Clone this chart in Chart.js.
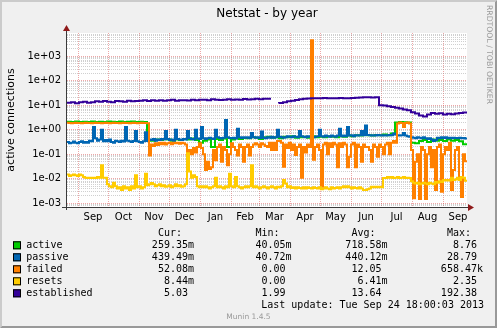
<!DOCTYPE html>
<html>
<head>
<meta charset="utf-8">
<title>Netstat - by year</title>
<script src="https://cdn.jsdelivr.net/npm/chart.js@4.4.0/dist/chart.umd.min.js"></script>
<style>
  html, body { margin: 0; padding: 0; background: #f0f0f0; }
  canvas { display: block; }
</style>
</head>
<body>
<canvas id="netstat" width="497" height="328"></canvas>
<script>
// ---- data -----------------------------------------------------------------
const seriesNames  = ['active', 'passive', 'failed', 'resets', 'established'];
const seriesColors = ['#00cc00', '#0066b3', '#ff8000', '#ffcc00', '#330099'];

// time axis: 400 days, day 0 = 2012-08-21
const rangeStart = '2012-08-21';
const rangeDays = 400;
const monthLabels = ['Sep', 'Oct', 'Nov', 'Dec', 'Jan', 'Feb', 'Mar', 'Apr', 'May', 'Jun', 'Jul', 'Aug', 'Sep'];
const monthStarts = ['2012-09-01', '2012-10-01', '2012-11-01', '2012-12-01', '2013-01-01', '2013-02-01',
                     '2013-03-01', '2013-04-01', '2013-05-01', '2013-06-01', '2013-07-01', '2013-08-01',
                     '2013-09-01', '2013-10-01'];

// value axis (connections, log scale)
const yMin = 0.00071;
const yMax = 8900;

// slow series: one value every 4 days
const stepDays = 4;
const activeValues = [
  2.1, 2.15, 2.1, 2.2, 2.1, 2.15, 2.1, 2.2, 2.1, 2.15, 2.1, 2.2, 2.15, 2.1, 2.2, 2.1, 2.15, 2.2, 2.1, 2.15, 2.1,
  0.38, 0.36, 0.4, 0.38, 0.42, 0.4, 0.36, 0.4, 0.38, 0.42, 0.4, 0.44, 0.38, 0.3, 0.36, 0.4, 0.2, 0.42, 0.38, 0.44,
  0.2, 0.4, 0.45, 0.42, 0.46,
  0.45, 0.5, 0.48, 0.42, 0.5, 0.52, 0.48, 0.5, 0.45, 0.52, 0.5, 0.55, 0.48, 0.5, 0.52, 0.48, 0.55, 0.5, 0.52, 0.5,
  0.55, 0.52, 0.5, 0.55, 0.52, 0.58, 0.55, 0.6, 0.58, 0.62, 0.6, 0.58, 0.62,
  0.6, 0.65, 0.6, 0.7,
  2.0, 2.1, 2.05, 2.0,
  0.3, 0.28, 0.35, 0.38, 0.32, 0.4, 0.36, 0.38, 0.35, 0.4, 0.36, 0.38, 0.34, 0.25935
];
const establishedValues = [
  13.4, 12.8, 13.4, 12.2, 13.4, 14, 12.8, 13.4, 14.7,
  14, 15, 14, 13.4, 15, 14.7, 14, 15.4, 14.7, 15,
  15.4, 16, 15, 16, 15.4, 16.2, 15.4, 16, 16.8, 15.4, 16, 16.2, 15.6, 17, 16,
  16.8, 17, 16.2, 17.6, 17, 16.4, 17, 17.6, 16.8, 17.4, 17, 18, 17.2, 17.6, 18.4, 17.6,
  18.6, 18.6, null,
  11.8, 12.5, 13.4, 14.5, 15.5, 16.5, 17.6, 18.6, 19,
  19.2, 19.5, 19.2, 19.8, 19.5, 19.2, 19.5, 19.8, 19.5,
  19.5, 20, 20.5, 21, 21.3, 21.5, 21, 21.3,
  10.1, 9.8, 9.2, 8.6, 8, 7.4, 6.8, 6.3, 5.2, 4.6, 3.8, 3.5, 4.2, 4.8, 4.5, 4.7, 4.2, 4.5, 4.3, 4.6, 4.8, 5.03
];

// spiky series: one value every 2 days
const fineStepDays = 2;
const passiveValues = [
  0.3, 0.32, 0.28, 0.3, 0.33, 0.3, 0.28, 0.32, 0.34, 0.3,
  0.32, 0.3, 0.36, 0.34, 1.3, 0.45, 0.36, 0.4, 1.0, 0.34,
  0.38, 0.34, 0.4, 0.32, 0.3, 0.36, 0.34, 0.32, 0.36, 0.33,
  1.3, 0.36, 0.34, 0.32, 0.35, 0.9, 0.34, 0.32, 0.3, 0.34,
  0.8, 0.35, 0.4, 0.38, 0.42, 0.36, 0.4, 0.38, 0.42, 0.4,
  0.9, 0.42, 0.38, 0.4, 0.36, 1.0, 0.42, 0.4, 0.38, 0.42,
  0.4, 0.9, 0.45, 0.42, 0.4, 1.0, 0.44, 0.42, 1.3, 0.45,
  0.42, 0.45, 0.48, 0.44, 0.42, 1.0, 0.5, 0.46, 0.44, 0.48,
  2.5, 0.5, 0.46, 0.45, 0.48, 0.44, 1.1, 0.5, 0.46, 0.5,
  0.48, 0.5, 0.46, 0.75, 0.5, 0.48, 0.5, 0.46, 0.85, 0.48,
  0.45, 0.5, 0.48, 0.52, 0.48, 0.5, 1.0, 0.52, 0.5, 0.48,
  0.5, 0.55, 0.52, 0.5, 0.55, 0.52, 0.5, 0.9, 0.55, 0.52,
  0.5, 0.55, 0.52, 0.55, 0.5, 0.52, 0.55, 1.0, 0.55, 0.52,
  0.58, 0.55, 0.52, 0.58, 0.55, 0.52, 0.58, 1.1, 0.55, 0.58,
  0.55, 1.3, 0.58, 0.6, 0.55, 0.6, 0.58, 0.6, 0.9, 0.6,
  1.5, 0.62, 0.6, 0.58, 0.6, 0.58, 0.62, 0.6, 0.58, 0.6,
  0.58, 0.6, 0.62, 0.6, 0.7, 0.65, 0.6, 0.58, 0.6, 0.75,
  0.58, 0.55, 0.52, 0.5, 0.48, 0.45, 0.5, 0.48, 0.45, 0.5,
  0.45, 0.42, 0.45, 0.4, 0.35, 0.38, 0.48, 0.45, 0.5, 0.46,
  0.5, 0.45, 0.48, 0.45, 0.48, 0.46, 0.45, 0.48, 0.45, 0.46,
  0.43949
];
const failedValues = [
  1.9, 1.95, 1.9, 1.85, 1.9, 1.95, 1.9, 1.9, 1.85, 1.9,
  1.95, 1.9, 1.9, 1.85, 1.9, 1.95, 1.9, 1.9, 1.85, 1.9,
  1.95, 1.9, 1.85, 1.9, 1.95, 1.9, 1.9, 1.85, 1.9, 1.95,
  1.9, 1.9, 1.85, 1.9, 1.95, 1.9, 1.85, 1.9, 1.95, 1.9,
  1.9, 1.85,
  0.09, 0.25, 0.22, 0.28, 0.24, 0.3, 0.26, 0.3,
  0.25, 0.28, 0.3, 0.26, 0.3, 0.28, 0.3, 0.27, 0.3, 0.28,
  0.25, 0.08, 0.15, 0.1, 0.18, 0.12, 0.2, 0.28, 0.18, 0.1,
  0.023, 0.05, 0.025, 0.03, 0.15, 0.058, 0.2, 0.25, 0.05, 0.2,
  0.15, 0.036, 0.1, 0.28, 0.2, 0.15, 0.09, 0.25, 0.2, 0.05,
  0.2, 0.25, 0.09, 0.2, 0.25, 0.28, 0.25, 0.2, 0.28, 0.25,
  0.22,
  0.2, 0.3, 0.15, 0.3, 0.15, 0.35, 0.35, 0.3, 0.031, 0.25,
  0.18, 0.3, 0.15, 0.25, 0.093, 0.2, 0.25, 0.011, 0.2, 0.12,
  0.25, 0.2, 4500, 0.06, 0.2, 0.25, 0.15, 0.0048, 0.25, 0.3,
  0.1, 0.28, 0.2, 0.3, 0.25, 0.03, 0.28, 0.2, 0.3, 0.25,
  0.03, 0.08, 0.25, 0.3, 0.03, 0.25, 0.2, 0.05, 0.25, 0.2,
  0.2, 0.15, 0.05, 0.25, 0.2, 0.08, 0.25, 0.2, 0.1, 0.25,
  0.3, 0.1, 0.3, 0.35, 0.3, 1.8, 2.0, 1.9, 1.3, 1.9,
  2.0, 1.8, 0.15, 0.0016, 0.05, 0.1, 0.0015, 0.2, 0.15, 0.0015,
  0.1, 0.2, 0.03, 0.15, 0.0035, 0.2, 0.25, 0.003, 0.1, 0.2,
  0.15, 0.3, 0.0035, 0.023, 0.15, 0.2, 0.0089, 0.0018, 0.1, 0.05208
];
const resetsValues = [
  0.014, 0.015, 0.013, 0.014, 0.015, 0.014, 0.013, 0.015, 0.014, 0.012,
  0.011, 0.0107, 0.011, 0.0107, 0.011, 0.0107, 0.012, 0.011, 0.036, 0.011,
  0.011, 0.006, 0.005, 0.0045, 0.007, 0.005, 0.004, 0.0045, 0.0035, 0.005,
  0.004, 0.0045, 0.0035, 0.005, 0.004, 0.014, 0.0045, 0.005, 0.004, 0.0045,
  0.016, 0.0055, 0.006, 0.0067, 0.006, 0.005, 0.0055, 0.006, 0.005, 0.0055,
  0.0048, 0.005, 0.0055, 0.0045, 0.005, 0.006, 0.005, 0.0055, 0.0048, 0.005,
  0.006, 0.11, 0.02, 0.011, 0.014, 0.012, 0.005, 0.0045, 0.005, 0.0045,
  0.005, 0.0045, 0.004, 0.0045, 0.005, 0.011, 0.0045, 0.005, 0.0045, 0.004,
  0.005, 0.0045, 0.016, 0.005, 0.0045, 0.012, 0.005, 0.0045, 0.004, 0.0045,
  0.005, 0.0045, 0.005, 0.036, 0.0045, 0.005, 0.0045, 0.004, 0.0045, 0.005,
  0.0045, 0.004, 0.0045, 0.005, 0.0045, 0.004, 0.0048, 0.0045, 0.005, 0.009,
  0.0065, 0.0045, 0.005, 0.0042, 0.0045, 0.004, 0.0045, 0.0042, 0.004, 0.0045,
  0.004, 0.0045, 0.0042, 0.004, 0.0045, 0.0042, 0.004, 0.0045, 0.0038, 0.004,
  0.0045, 0.004, 0.0038, 0.0045, 0.004, 0.0042, 0.0045, 0.004, 0.0045, 0.005,
  0.0045, 0.005, 0.0045, 0.004, 0.0045, 0.0042, 0.004, 0.0045, 0.004, 0.0035,
  0.0035, 0.0038, 0.004, 0.0048, 0.0045, 0.0048, 0.0045, 0.0048, 0.0045, 0.0107,
  0.0107, 0.012, 0.011, 0.012, 0.0107, 0.011, 0.012, 0.0107, 0.011, 0.012,
  0.0107, 0.011, 0.0107, 0.008, 0.007, 0.0065, 0.007, 0.006, 0.0065, 0.007,
  0.0065, 0.006, 0.007, 0.0065, 0.006, 0.0075, 0.007, 0.008, 0.0075, 0.009,
  0.0085, 0.009, 0.0085, 0.011, 0.009, 0.0095, 0.011, 0.009, 0.012, 0.011,
  0.00844
];

// legend statistics
const statHeaders = ['Cur:', 'Min:', 'Avg:', 'Max:'];
const statCur = ['259.35m', '439.49m', '52.08m', '8.44m', '5.03'];
const statMin = ['40.05m', '40.72m', '0.00', '0.00', '1.99'];
const statAvg = ['718.58m', '440.12m', '12.05', '6.41m', '13.64'];
const statMax = ['8.76', '28.79', '658.47k', '2.35', '192.38'];
const lastUpdate = 'Last update: Tue Sep 24 18:00:03 2013';
const chartTitle = 'Netstat - by year';
const axisTitle = 'active connections';
const sideNote = 'RRDTOOL / TOBI OETIKER';
const footNote = 'Munin 1.4.5';

// ---- helpers --------------------------------------------------------------
const DAY_MS = 86400000;
const startMs = Date.parse(rangeStart + 'T00:00:00Z');
const dayOf = s => (Date.parse(s + 'T00:00:00Z') - startMs) / DAY_MS;
const monthStartDays = monthStarts.map(dayOf);
const gridDays = monthStartDays.filter(d => d > 0 && d < rangeDays);
const monthLabelTicks = monthLabels.map((lab, i) => ({
  value: (monthStartDays[i] + monthStartDays[i + 1]) / 2, text: lab
})).filter(t => t.value > 0 && t.value < rangeDays);

const toPoints = (values, step) => values.map((v, i) => ({ x: i * step, y: v }));

function expLabel(e) {
  return '1e' + (e < 0 ? '-' : '+') + String(Math.abs(e)).padStart(2, '0');
}
function logTicks() {
  const out = [];
  for (let e = -4; e <= 4; e++) {
    for (let k = 1; k <= 9; k++) {
      const v = Number(k + 'e' + e);
      if (v >= yMin && v <= yMax) out.push({ value: v, decade: k === 1, text: k === 1 ? expLabel(e) : '' });
    }
  }
  return out;
}

const MAJOR_GRID = 'rgba(222, 79, 79, 0.5)';
const MINOR_GRID = 'rgba(143, 143, 143, 0.42)';
const AXIS_COLOR = '#3a3a3a';
const ARROW_COLOR = '#8f1a1a';
const MONO = '"DejaVu Sans Mono", monospace';
const SANS = '"DejaVu Sans", sans-serif';

// ---- frame, axes, title and legend ------------------------------------
const rrdFrame = {
  id: 'rrdFrame',
  beforeDraw(chart) {
    const { ctx, width, height, chartArea: a } = chart;
    ctx.save();
    ctx.fillStyle = '#f0f0f0';
    ctx.fillRect(0, 0, width, height);
    // bevelled border
    ctx.fillStyle = '#cbcbcb';
    ctx.beginPath();
    ctx.moveTo(0, height); ctx.lineTo(2, height - 2); ctx.lineTo(2, 2);
    ctx.lineTo(width - 2, 2); ctx.lineTo(width, 0); ctx.lineTo(0, 0); ctx.closePath();
    ctx.fill();
    ctx.fillStyle = '#999999';
    ctx.beginPath();
    ctx.moveTo(2, height - 2); ctx.lineTo(width - 2, height - 2); ctx.lineTo(width - 2, 2);
    ctx.lineTo(width, 0); ctx.lineTo(width, height); ctx.lineTo(0, height); ctx.closePath();
    ctx.fill();
    // plotting canvas
    ctx.fillStyle = '#ffffff';
    ctx.fillRect(a.left, a.top, a.right - a.left, a.bottom - a.top);
    ctx.restore();
  },
  afterDraw(chart) {
    const { ctx, chartArea: a, width } = chart;
    ctx.save();
    // axes
    ctx.strokeStyle = AXIS_COLOR;
    ctx.lineWidth = 1;
    ctx.beginPath();
    ctx.moveTo(a.left - 0.5, a.bottom + 3); ctx.lineTo(a.left - 0.5, a.top - 3);
    ctx.moveTo(a.left - 5, a.bottom + 0.5); ctx.lineTo(a.right + 2, a.bottom + 0.5);
    ctx.stroke();
    // arrows
    ctx.fillStyle = ARROW_COLOR;
    ctx.beginPath();
    ctx.moveTo(a.left - 0.5, a.top - 8); ctx.lineTo(a.left + 3, a.top - 2); ctx.lineTo(a.left - 4, a.top - 2);
    ctx.closePath(); ctx.fill();
    ctx.beginPath();
    ctx.moveTo(a.right + 7, a.bottom + 0.5); ctx.lineTo(a.right + 1, a.bottom - 3); ctx.lineTo(a.right + 1, a.bottom + 4);
    ctx.closePath(); ctx.fill();

    // title
    ctx.fillStyle = '#000';
    ctx.font = '12px ' + SANS;
    ctx.textAlign = 'center';
    ctx.textBaseline = 'alphabetic';
    ctx.fillText(chartTitle, (a.left + a.right) / 2, 17);

    // side note
    ctx.save();
    ctx.fillStyle = '#9a9a9a';
    ctx.font = '7.7px ' + SANS;
    ctx.translate(488.5, 5);
    ctx.rotate(Math.PI / 2);
    ctx.textAlign = 'left';
    ctx.textBaseline = 'middle';
    ctx.fillText(sideNote, 0, 0);
    ctx.restore();

    // legend
    const colRight = [194, 291.5, 387.5, 483];
    const stats = [statCur, statMin, statAvg, statMax];
    ctx.font = '10px ' + MONO;
    ctx.fillStyle = '#000';
    ctx.textAlign = 'right';
    statHeaders.forEach((h, c) => ctx.fillText(h, colRight[c] - 12, 236.3));
    seriesNames.forEach((name, r) => {
      const base = 248.3 + r * 12;
      ctx.fillStyle = seriesColors[r];
      ctx.fillRect(13, base - 7, 8, 8);
      ctx.strokeStyle = '#000';
      ctx.lineWidth = 1;
      ctx.strokeRect(13.5, base - 6.5, 7, 7);
      ctx.fillStyle = '#000';
      ctx.textAlign = 'left';
      ctx.fillText(name, 26.3, base);
      ctx.textAlign = 'right';
      stats.forEach((col, c) => {
        const v = col[r];
        ctx.fillText(/[0-9]$/.test(v) ? v + ' ' : v, colRight[c], base);
      });
    });
    ctx.fillText(lastUpdate, 484, 308.3);

    // footer
    ctx.fillStyle = '#999999';
    ctx.font = '7.5px ' + SANS;
    ctx.textAlign = 'center';
    ctx.fillText(footNote, width / 2, 319.3);
    ctx.restore();
  }
};

// ---- chart ----------------------------------------------------------------
const seriesValues = [activeValues, passiveValues, failedValues, resetsValues, establishedValues];
const seriesSteps = [stepDays, fineStepDays, fineStepDays, fineStepDays, stepDays];

const datasets = seriesNames.map((name, i) => ({
  label: name,
  data: toPoints(seriesValues[i], seriesSteps[i]),
  borderColor: seriesColors[i],
  backgroundColor: seriesColors[i],
  borderWidth: 2,
  pointRadius: 0,
  pointHoverRadius: 0,
  stepped: 'after',
  spanGaps: false,
  fill: false,
  order: seriesNames.length - 1 - i   // later series are drawn on top
}));

new Chart(document.getElementById('netstat'), {
  type: 'line',
  data: { datasets },
  plugins: [rrdFrame],
  options: {
    responsive: false,
    animation: false,
    devicePixelRatio: 1,
    layout: { padding: { left: 0, right: 30, top: 33, bottom: 101 } },
    plugins: {
      legend: { display: false },
      title: { display: false },
      tooltip: { enabled: false }
    },
    scales: {
      x: {
        type: 'linear',
        min: 0,
        max: rangeDays,
        afterBuildTicks: axis => {
          const t = gridDays.map(d => ({ value: d, text: '', grid: true }))
            .concat(monthLabelTicks.map(m => ({ value: m.value, text: m.text, grid: false })));
          t.sort((p, q) => p.value - q.value);
          axis.ticks = t;
        },
        afterFit: axis => { axis.height = 20; },
        ticks: {
          autoSkip: false,
          maxRotation: 0,
          minRotation: 0,
          padding: 4,
          color: '#000',
          font: { family: 'DejaVu Sans', size: 10 },
          callback: (value, index, ticks) => ticks[index].text
        },
        grid: {
          drawTicks: false,
          lineWidth: 1,
          color: ctx => (ctx.tick && ctx.tick.grid) ? MAJOR_GRID : 'rgba(0,0,0,0)'
        },
        border: { display: false, dash: [1, 1] }
      },
      y: {
        type: 'logarithmic',
        min: yMin,
        max: yMax,
        afterBuildTicks: axis => { axis.ticks = logTicks(); },
        afterFit: axis => { axis.width = 67; },
        ticks: {
          autoSkip: false,
          padding: 6,
          color: '#000',
          font: { family: 'DejaVu Sans', size: 10 },
          callback: (value, index, ticks) => ticks[index].text
        },
        grid: {
          drawTicks: false,
          lineWidth: 1,
          color: ctx => (ctx.tick && ctx.tick.decade) ? MAJOR_GRID : MINOR_GRID
        },
        border: { display: false, dash: [1, 1] },
        title: {
          display: true,
          text: axisTitle,
          color: '#000',
          font: { family: 'DejaVu Sans', size: 11 },
          padding: { top: 4.5, bottom: 0 }
        }
      }
    }
  }
});
</script>
</body>
</html>
